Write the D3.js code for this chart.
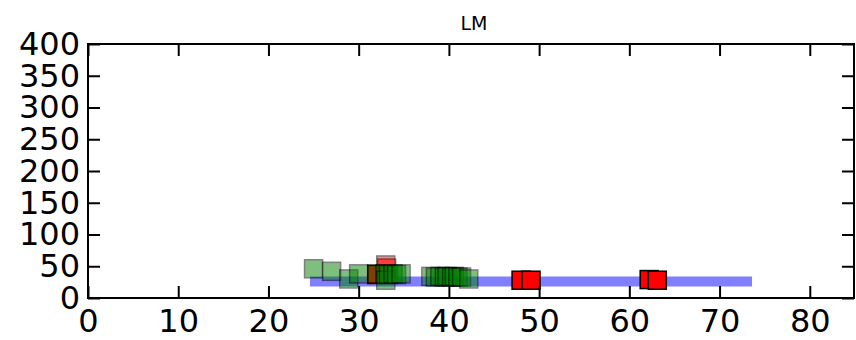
<!DOCTYPE html>
<html>
<head>
<meta charset="utf-8">
<script src="https://cdn.jsdelivr.net/npm/d3@7"></script>
<style>
  body { margin: 0; background: #fff; }
  svg { display: block; font-family: "DejaVu Sans", sans-serif; }
</style>
</head>
<body>
<div id="chart"></div>
<script>
// data
var title = "LM"
var xTicks = [0, 10, 20, 30, 40, 50, 60, 70, 80]
var yTicks = [0, 50, 100, 150, 200, 250, 300, 350, 400]
var fitX = [24.6, 73.6]
var fitY = [26, 26]
var redX = [32.0, 48.0, 49.1, 62.2, 63.1]
var redY = [37, 28, 28, 29, 28]
var redFadedX = [33.0, 33.1]
var redFadedY = [52, 47]
var greenX = [25.0, 27.0, 28.9, 30.0, 32.0, 32.9, 33.0, 33.3, 33.8, 34.2, 34.7,
              38.0, 38.5, 39.0, 39.5, 39.8, 40.3, 40.6, 41.0, 41.4, 42.2]
var greenY = [46, 42, 30, 38, 38, 38, 28, 37, 38, 37, 38,
              34, 33, 34, 33, 34, 33, 34, 33, 33, 30]

const MARGIN = { LEFT: 88, RIGHT: 2, TOP: 44, BOTTOM: 42 }
const WIDTH = 856 - MARGIN.LEFT - MARGIN.RIGHT
const HEIGHT = 340 - MARGIN.TOP - MARGIN.BOTTOM
const SQ = 18

var svg = d3.select("#chart").append("svg")
    .attr("width", 856)
    .attr("height", 340)
  .append("g")
    .attr("transform", `translate(${MARGIN.LEFT}, ${MARGIN.TOP})`)

var x = d3.scaleLinear().domain([0, 84.9]).range([0, WIDTH])
var y = d3.scaleLinear().domain([0, 400]).range([HEIGHT, 0])

// fit line
var line = d3.line().x(d => x(d[0])).y(d => y(d[1]))
svg.append("path")
    .datum(d3.zip(fitX, fitY))
    .attr("d", line)
    .attr("fill", "none")
    .attr("stroke", "#0000ff")
    .attr("stroke-opacity", 0.5)
    .attr("stroke-width", 10)

function squares(xs, ys, color, alpha) {
  svg.append("g").selectAll("rect")
    .data(d3.zip(xs, ys))
    .enter().append("rect")
      .attr("x", d => x(d[0]) - SQ / 2)
      .attr("y", d => y(d[1]) - SQ / 2)
      .attr("width", SQ)
      .attr("height", SQ)
      .attr("fill", color)
      .attr("stroke", "#000")
      .attr("stroke-width", 1.5)
      .attr("opacity", alpha)
}
squares(redX, redY, "#ff0000", 1)
squares(redFadedX, redFadedY, "#ff0000", 0.5)
squares(greenX, greenY, "#008000", 0.5)

// axes: ticks inside, on all four sides
const TL = 12
svg.append("g")
    .attr("transform", `translate(0, ${HEIGHT})`)
    .call(d3.axisBottom(x).tickValues(xTicks).tickSize(-TL).tickPadding(11))
svg.append("g")
    .call(d3.axisTop(x).tickValues(xTicks).tickSize(-TL).tickFormat(""))
svg.append("g")
    .call(d3.axisLeft(y).tickValues(yTicks).tickSize(-TL).tickPadding(8))
svg.append("g")
    .attr("transform", `translate(${WIDTH}, 0)`)
    .call(d3.axisRight(y).tickValues(yTicks).tickSize(-TL).tickFormat(""))

svg.selectAll(".domain").remove()
svg.selectAll(".tick line").attr("stroke", "#000").attr("stroke-width", 2)
svg.selectAll(".tick text")
    .attr("font-size", "32px")
    .attr("font-family", "DejaVu Sans, sans-serif")
    .attr("fill", "#000")

svg.append("rect")
    .attr("width", WIDTH)
    .attr("height", HEIGHT)
    .attr("fill", "none")
    .attr("stroke", "#000")
    .attr("stroke-width", 2)

svg.append("text")
    .attr("x", WIDTH / 2 + 3)
    .attr("y", -14)
    .attr("text-anchor", "middle")
    .attr("font-size", "19px")
    .text(title)
</script>
</body>
</html>
